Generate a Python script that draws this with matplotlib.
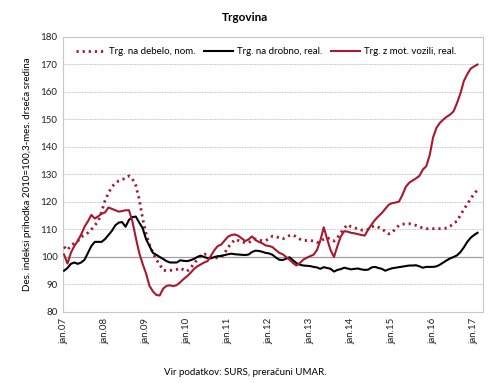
import numpy as np
import matplotlib
matplotlib.use("Agg")
import matplotlib.pyplot as plt

plt.rcParams['font.family'] = ['Lato', 'DejaVu Sans']

# monthly values, jan 2007 - feb 2017
wholesale_nom = [
    103.7, 102.5, 104.2, 105.0, 105.8, 107.3, 108.0, 108.8, 110.0, 111.5, 113.0, 116.5,
    120.5, 123.3, 125.5, 126.8, 127.7, 128.2, 128.6, 129.5, 128.4, 126.0, 121.0, 114.0,
    108.5, 104.5, 101.5, 99.0, 97.3, 95.2, 95.0, 95.1, 95.3, 95.5, 96.0, 95.3,
    94.8, 96.0, 97.5, 99.1, 100.5, 101.0, 100.9, 100.0, 99.7, 99.7, 100.0, 101.5,
    103.5, 105.0, 106.4, 106.0, 105.5, 105.2, 105.2, 106.0, 106.6, 106.2, 105.9, 106.0,
    106.6, 107.6, 107.4, 107.0, 106.6, 107.2, 107.8, 108.0, 107.3, 106.5, 106.0, 106.0,
    106.0, 105.8, 105.3, 105.5, 106.5, 107.0, 106.5, 105.8, 107.0, 108.8, 110.5, 111.8,
    111.0, 110.6, 110.2, 109.8, 109.8, 110.0, 111.0, 111.3, 110.8, 110.2, 109.3, 108.4,
    108.8, 110.3, 111.5, 111.9, 112.1, 112.1, 111.8, 111.5, 111.0, 110.5, 110.3, 110.3,
    110.3, 110.3, 110.3, 110.4, 110.5, 111.2, 112.3, 113.0, 115.3, 117.3, 119.2, 121.2,
    123.0, 124.4,
]
retail_real = [
    95.0, 96.0, 97.5, 98.0, 97.5, 98.0, 99.0, 101.5, 104.0, 105.5, 105.5, 105.5,
    106.5, 108.0, 109.5, 111.5, 112.5, 112.7, 111.0, 113.5, 114.5, 114.7, 112.5, 110.5,
    106.5, 104.0, 101.5, 100.8, 100.0, 99.3, 98.5, 98.0, 98.0, 98.0, 98.8, 98.6,
    98.5, 98.8, 99.3, 100.0, 100.5, 100.0, 99.6, 99.5, 100.0, 100.3, 100.4, 100.7,
    101.0, 101.2, 101.0, 100.9, 100.8, 100.7, 100.9, 101.8, 102.3, 102.2, 101.9, 101.5,
    101.3, 100.8, 99.8, 99.0, 98.9, 99.4, 99.9, 98.8, 97.8, 97.2, 96.9, 96.8,
    96.7, 96.4, 96.2, 95.7, 96.3, 96.0, 95.7, 94.7, 95.3, 95.6, 96.1, 95.8,
    95.5, 95.7, 95.8, 95.5, 95.3, 95.4, 96.2, 96.4, 96.0, 95.7, 95.0, 95.5,
    95.9, 96.1, 96.3, 96.5, 96.7, 96.9, 96.9, 97.0, 96.6, 96.1, 96.4, 96.4,
    96.4, 96.6, 97.2, 98.0, 98.8, 99.5, 100.0, 100.6, 101.8, 103.5, 105.5, 107.0,
    108.0, 108.8,
]
motor_real = [
    100.9, 97.6, 101.5, 104.0, 105.8, 108.2, 111.0, 113.0, 115.3, 114.0, 114.8, 115.7,
    116.2, 118.0, 117.5, 117.0, 116.5, 116.7, 117.0, 117.0, 113.0, 107.0, 101.5, 97.5,
    94.0, 89.5, 87.5, 86.2, 86.0, 88.5, 89.5, 89.7, 89.4, 89.8, 90.8, 92.0,
    93.0, 94.2, 95.6, 96.6, 97.3, 98.0, 98.5, 100.5, 102.5, 104.0, 104.5, 106.0,
    107.4, 108.0, 108.2, 107.7, 106.8, 105.8, 106.4, 107.5, 106.2, 105.5, 105.0, 104.2,
    104.0, 103.6, 102.5, 101.5, 101.0, 100.0, 99.0, 97.8, 96.9, 97.8, 99.0, 99.7,
    100.3, 100.8, 102.5, 106.0, 110.8, 106.5, 102.5, 100.0, 104.0, 107.5, 109.4, 109.2,
    108.8, 108.6, 108.3, 108.0, 107.8, 110.0, 111.8, 113.5, 114.8, 116.0, 117.5, 119.0,
    119.6, 119.8, 120.1, 122.5, 125.5, 127.0, 127.8, 128.6, 129.5, 131.8, 133.0, 137.0,
    143.5, 147.0, 148.8, 150.0, 151.0, 151.8, 153.0, 156.0, 159.5, 164.0, 166.5, 168.5,
    169.3, 170.0,
]
tick_labels = ['jan.07', 'jan.08', 'jan.09', 'jan.10', 'jan.11', 'jan.12',
               'jan.13', 'jan.14', 'jan.15', 'jan.16', 'jan.17']

red = '#A6192E'
months = np.arange(len(retail_real))

fig = plt.figure(figsize=(4.9, 3.83), dpi=100)
ax = fig.add_axes([0.1286, 0.1854, 0.8571, 0.718])

for y in range(90, 181, 10):
    ax.axhline(y, color='#b0b0b0', lw=0.6, ls=(0, (1, 1)), zorder=0)
ax.axhline(100, color='#a0a0a0', lw=0.9, zorder=1)

ax.plot(months, wholesale_nom, color=red, lw=2.0, ls=(0, (0.8, 1.4)),
        label='Trg. na debelo, nom.', zorder=3)
ax.plot(months, retail_real, color='black', lw=1.5,
        label='Trg. na drobno, real.', zorder=3)
ax.plot(months, motor_real, color=red, lw=1.5,
        label='Trg. z mot. vozili, real.', zorder=3)

ax.set_xlim(-0.3, 122.6)
ax.set_ylim(80, 180)
ax.set_yticks(range(80, 181, 10))
ax.set_xticks(np.arange(0, 121, 12))
ax.set_xticklabels(tick_labels, rotation=90)
ax.tick_params(axis='both', labelsize=7, length=0, pad=4, colors='#222222')
for s in ax.spines.values():
    s.set_color('#c8c8c8')
    s.set_linewidth(0.8)

ax.set_ylabel('Des. indeksi prihodka 2010=100,3-mes. drseča sredina',
              fontsize=7, labelpad=6)
ax.legend(loc='upper left', ncol=3, frameon=False, fontsize=7,
          handlelength=3.0, columnspacing=0.9, handletextpad=0.4,
          bbox_to_anchor=(0.01, 0.995))

fig.text(0.5, 0.955, 'Trgovina', ha='center', va='center',
         fontsize=8.5, fontweight='bold')
fig.text(0.5, 0.027, 'Vir podatkov: SURS, preračuni UMAR.', ha='center',
         va='center', fontsize=7)

fig.savefig('out.png', dpi=100)
